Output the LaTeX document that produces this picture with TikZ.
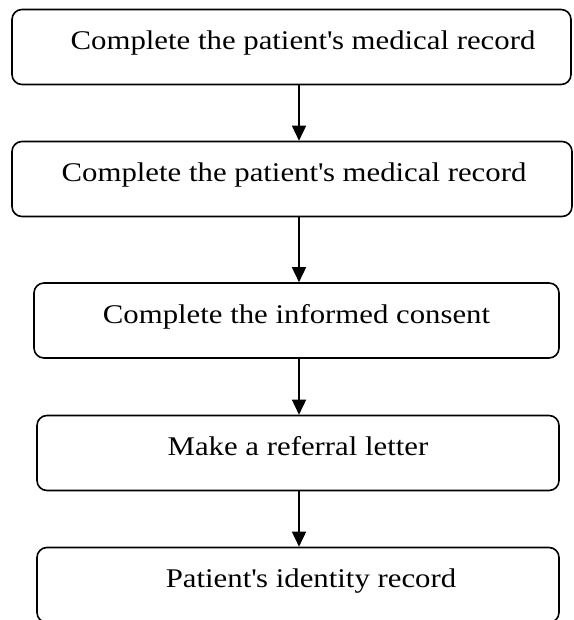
\documentclass[tikz,border=0pt]{standalone}
\usepackage{fontspec}
\setmainfont[FakeStretch=1.14]{Liberation Serif}
\usetikzlibrary{arrows.meta}
\tikzset{
  stepbox/.style={draw, line width=1.6pt, rounded corners=10pt, inner xsep=0pt, inner ysep=0pt,
    text height=40pt, text depth=35pt, font=\fontsize{27}{32}\selectfont},
  flow/.style={line width=1.6pt, -{Triangle[length=15pt,width=14pt]}}
}
\begin{document}
\begin{tikzpicture}[x=1pt,y=-1pt]
\useasboundingbox (0,0) rectangle (573,620);
\clip (0,0) rectangle (573,620);
\coordinate (ax) at (299,0);
\node[stepbox, minimum width=559pt] (s1) at (291.5,47){\hspace*{23pt}Complete the patient\textquotesingle s medical record};
\node[stepbox, minimum width=560pt] (s2) at (292,179){\hspace*{4pt}Complete the patient\textquotesingle s medical record};
\node[stepbox, minimum width=525pt] (s3) at (296.5,320.5){Complete the informed consent};
\node[stepbox, minimum width=522pt] (s4) at (298,453){Make a referral letter};
\node[stepbox, minimum width=522pt] (s5) at (298,585){\hspace*{26pt}Patient\textquotesingle s identity record};
\draw[flow](s1.south -| ax) -- (s2.north -| ax);
\draw[flow](s2.south -| ax) -- (s3.north -| ax);
\draw[flow](s3.south -| ax) -- (s4.north -| ax);
\draw[flow](s4.south -| ax) -- (s5.north -| ax);
\end{tikzpicture}
\end{document}
